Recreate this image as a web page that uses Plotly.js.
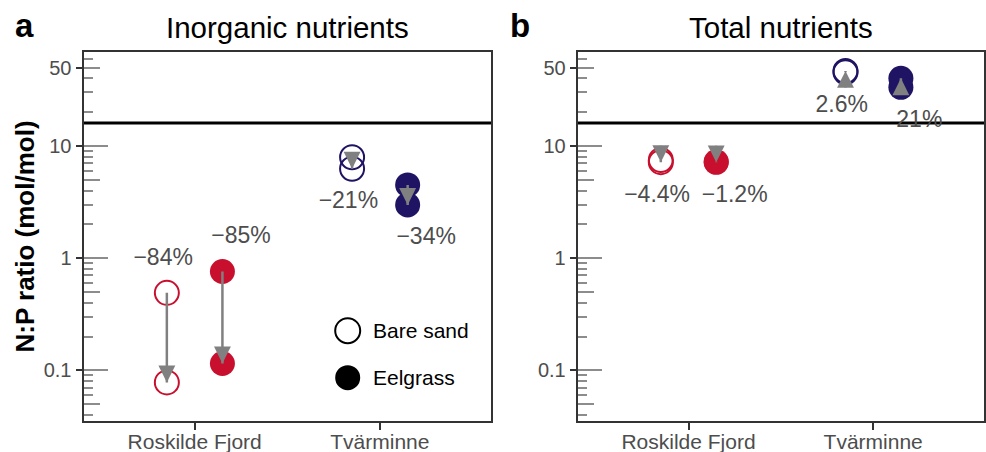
<!DOCTYPE html>
<html>
<head>
<meta charset="utf-8">
<script src="https://cdn.plot.ly/plotly-3.0.1.min.js"></script>
<style>html,body{margin:0;padding:0;background:#fff;}#chart{width:986px;height:452px;}</style>
</head>
<body>
<div id="chart"></div>
<script>
// ---- data ----
const sites = ['Roskilde Fjord', 'Tvärminne'];
const habitats = ['Bare sand', 'Eelgrass'];
// order of points: [Roskilde bare, Roskilde eelgrass, Tvärminne bare, Tvärminne eelgrass]
const pointSite = [0, 0, 1, 1];
const pointHabitat = [0, 1, 0, 1];
const inorgBefore = [0.49, 0.76, 7.93, 4.49];
const inorgAfter = [0.078, 0.115, 6.27, 2.98];
const inorgChange = ['−84%', '−85%', '−21%', '−34%'];
const totalBefore = [7.5, 7.24, 45.4, 33.3];
const totalAfter = [7.17, 7.15, 46.6, 40.1];
const totalChange = ['−4.4%', '−1.2%', '2.6%', '21%'];
const redfield = 16;
const yTickVals = [0.1, 1, 10, 50];
const yTickText = ['0.1', '1', '10', '50'];

// ---- styling ----
const siteColors = ['#C8102E', '#1E1463'];
const FONT = 'Liberation Sans, Arial, Helvetica, sans-serif';
const W = 986, H = 452;
const dodge = 0.15;
const px = v => v / W, py = v => 1 - v / H;
const ARROW = '#808080';

function xPos(i) { return pointSite[i] + 1 + (pointHabitat[i] === 0 ? -dodge : dodge); }

const traces = [];
const annotations = [];
const shapes = [];

function addPanel(before, after, change, xa, ya, labelAbove) {
  const idx = before.map((_, i) => i);
  // reference line
  traces.push({x: [0.4, 2.6], y: [redfield, redfield], xaxis: xa, yaxis: ya, mode: 'lines',
    line: {color: '#000', width: 3}, hoverinfo: 'skip', showlegend: false});
  [0, 1].forEach(h => {
    const sel = idx.filter(i => pointHabitat[i] === h);
    const open = h === 0;
    [before, after].forEach(vals => {
      traces.push({
        x: sel.map(xPos), y: sel.map(i => vals[i]), xaxis: xa, yaxis: ya, mode: 'markers',
        marker: open ? {symbol: 'circle-open', size: 24, color: sel.map(i => siteColors[pointSite[i]]), line: {width: 2}}
                     : {symbol: 'circle', size: 25, color: sel.map(i => siteColors[pointSite[i]]), line: {width: 0}},
        hoverinfo: 'skip', showlegend: false
      });
    });
  });
  // arrow shafts
  const ax = [], ay = [];
  idx.forEach(i => { ax.push(xPos(i), xPos(i), null); ay.push(before[i], after[i], null); });
  traces.push({x: ax, y: ay, xaxis: xa, yaxis: ya, mode: 'lines', line: {color: ARROW, width: 2.5},
    hoverinfo: 'skip', showlegend: false});
  // arrow heads (fixed size, tip at the "after" value)
  idx.forEach(i => {
    annotations.push({
      xref: xa, yref: ya, x: xPos(i), y: Math.log10(after[i]),
      ax: 0, ay: after[i] < before[i] ? -18 : 18,
      text: '', showarrow: true, arrowhead: 2, arrowsize: 1.35, arrowwidth: 2.5,
      arrowcolor: ARROW, standoff: 0
    });
  });
  // labels
  traces.push({
    x: idx.map(i => xPos(i) + (pointHabitat[i] === 0 ? -0.02 : 0.10)),
    y: idx.map(i => labelAbove(i) ? Math.max(before[i], after[i]) * 2 : Math.min(before[i], after[i]) / 2),
    text: change, mode: 'text', xaxis: xa, yaxis: ya, textposition: 'middle center',
    textfont: {family: FONT, size: 23, color: '#4D4D4D'}, hoverinfo: 'skip', showlegend: false
  });
}

addPanel(inorgBefore, inorgAfter, inorgChange, 'x', 'y', i => pointSite[i] === 0);
addPanel(totalBefore, totalAfter, totalChange, 'x2', 'y2', i => false);

// dummy traces for overlay axes
['y3', 'y5'].forEach(y => traces.push({x: [null], y: [null], xaxis: 'x', yaxis: y, mode: 'lines', showlegend: false, hoverinfo: 'skip'}));
['y4', 'y6'].forEach(y => traces.push({x: [null], y: [null], xaxis: 'x2', yaxis: y, mode: 'lines', showlegend: false, hoverinfo: 'skip'}));

const yRange = [Math.log10(0.0353), Math.log10(68.8)];
const yDomain = [1 - 421 / H, 1 - 52 / H];
const decades = [0.01, 0.1, 1, 10, 100];
const minorVals = [];
decades.forEach(d => [2, 3, 4, 6, 7, 8, 9].forEach(m => minorVals.push(+(d * m).toPrecision(3))));
const fiveVals = decades.map(d => +(d * 5).toPrecision(3));

function mainY(anchor) {
  return {type: 'log', range: yRange, domain: yDomain, anchor: anchor,
    tickmode: 'array', tickvals: yTickVals, ticktext: yTickText, ticks: 'outside', ticklen: 6, tickwidth: 2, tickcolor: '#333',
    tickfont: {family: FONT, size: 20, color: '#4D4D4D'}, showgrid: false, zeroline: false,
    showline: true, mirror: true, linecolor: '#333', linewidth: 2};
}
function overlayY(over, anchor, vals, len, minor) {
  const o = {type: 'log', range: yRange, domain: yDomain, anchor: anchor, overlaying: over, side: 'left',
    tickmode: 'array', tickvals: vals, ticks: 'inside', ticklen: len, tickwidth: 2, tickcolor: '#8C8C8C',
    showticklabels: false, showgrid: false, zeroline: false, showline: false};
  if (minor) o.minor = {tickmode: 'array', tickvals: minorVals, ticks: 'inside', ticklen: 9, tickwidth: 2, tickcolor: '#8C8C8C', showgrid: false};
  return o;
}
function mainX(domain, anchor) {
  return {domain: domain, anchor: anchor, range: [0.4, 2.6], tickmode: 'array', tickvals: [1, 2], ticktext: sites,
    ticks: 'outside', ticklen: 7, tickwidth: 2, tickcolor: '#333', ticklabelstandoff: -6,
    tickfont: {family: FONT, size: 21, color: '#4D4D4D'}, showgrid: false, zeroline: false,
    showline: true, mirror: true, linecolor: '#333', linewidth: 2};
}

// titles, letters, axis title
annotations.push({xref: 'paper', yref: 'paper', x: px(287.3), y: py(27), text: 'Inorganic nutrients', showarrow: false,
  xanchor: 'center', yanchor: 'middle', font: {family: FONT, size: 29.5, color: '#000'}});
annotations.push({xref: 'paper', yref: 'paper', x: px(780.9), y: py(27), text: 'Total nutrients', showarrow: false,
  xanchor: 'center', yanchor: 'middle', font: {family: FONT, size: 29.5, color: '#000'}});
annotations.push({xref: 'paper', yref: 'paper', x: px(24), y: py(26), text: '<b>a</b>', showarrow: false,
  xanchor: 'center', yanchor: 'middle', font: {family: FONT, size: 33, color: '#000'}});
annotations.push({xref: 'paper', yref: 'paper', x: px(520), y: py(26), text: '<b>b</b>', showarrow: false,
  xanchor: 'center', yanchor: 'middle', font: {family: FONT, size: 33, color: '#000'}});
annotations.push({xref: 'paper', yref: 'paper', x: px(25), y: py(236.5), text: '<b>N:P ratio (mol/mol)</b>', showarrow: false,
  textangle: -90, xanchor: 'center', yanchor: 'middle', font: {family: FONT, size: 26, color: '#000'}});

// legend
const legY = [330.7, 377.7];
habitats.forEach((h, k) => {
  shapes.push({type: 'circle', xref: 'paper', yref: 'paper', xsizemode: 'pixel', ysizemode: 'pixel',
    xanchor: px(347.7), yanchor: py(legY[k]), x0: -12.5, x1: 12.5, y0: -12.5, y1: 12.5,
    line: {color: '#000', width: k === 0 ? 2 : 0}, fillcolor: k === 0 ? 'rgba(0,0,0,0)' : '#000'});
  annotations.push({xref: 'paper', yref: 'paper', x: px(371), y: py(legY[k]), text: h, showarrow: false,
    xanchor: 'left', yanchor: 'middle', font: {family: FONT, size: 21, color: '#000'}});
});

const layout = {
  width: W, height: H, margin: {l: 0, r: 0, t: 0, b: 0}, paper_bgcolor: '#fff', plot_bgcolor: '#fff',
  showlegend: false,
  xaxis: mainX([83.5 / W, 491 / W], 'y'),
  xaxis2: mainX([577.7 / W, 984 / W], 'y2'),
  yaxis: mainY('x'),
  yaxis2: mainY('x2'),
  yaxis3: overlayY('y', 'x', decades, 24, true),
  yaxis4: overlayY('y2', 'x2', decades, 24, true),
  yaxis5: overlayY('y', 'x', fiveVals, 16, false),
  yaxis6: overlayY('y2', 'x2', fiveVals, 16, false),
  annotations: annotations, shapes: shapes
};

Plotly.newPlot('chart', traces, layout, {staticPlot: true, displayModeBar: false});
</script>
</body>
</html>
